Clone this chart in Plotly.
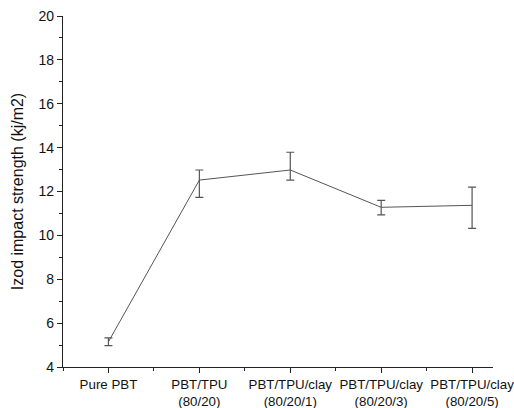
import plotly.graph_objects as go

categories = ["Pure PBT", "PBT/TPU<br>(80/20)", "PBT/TPU/clay<br>(80/20/1)",
              "PBT/TPU/clay<br>(80/20/3)", "PBT/TPU/clay<br>(80/20/5)"]
strength = [5.15, 12.52, 12.98, 11.28, 11.37]
err_plus = [0.18, 0.46, 0.81, 0.32, 0.83]
err_minus = [0.18, 0.79, 0.46, 0.35, 1.05]
y_ticks = [4, 6, 8, 10, 12, 14, 16, 18, 20]

x_idx = list(range(len(categories)))

fig = go.Figure()
fig.add_trace(go.Scatter(
    x=x_idx, y=strength, mode="lines",
    line=dict(color="#555555", width=1),
    error_y=dict(type="data", symmetric=False, array=err_plus, arrayminus=err_minus,
                 color="#555555", thickness=1.2, width=4),
    showlegend=False,
))

y_font = dict(family="Liberation Sans, Arial, sans-serif", size=14, color="#111111")
x_font = dict(family="Liberation Sans, Arial, sans-serif", size=13.3, color="#111111")

fig.update_layout(
    width=514, height=408,
    margin=dict(l=63, r=21, t=16, b=41),
    plot_bgcolor="white", paper_bgcolor="white",
    font=y_font,
    xaxis=dict(
        range=[-0.5, 4.23], tickvals=x_idx, ticktext=categories, automargin=False,
        ticklabeloverflow="allow",
        showgrid=False, zeroline=False, showline=True, linecolor="#222222", linewidth=1.3,
        ticks="outside", ticklen=5, tickcolor="#222222", tickfont=x_font,
        minor=dict(tickvals=[-0.5, 0.5, 1.5, 2.5, 3.5], ticks="outside", ticklen=3,
                   tickcolor="#222222", showgrid=False),
    ),
    yaxis=dict(
        range=[4, 20], tickvals=y_ticks, automargin=False,
        title=dict(text="Izod impact strength (kj/m2)",
                   font=dict(family="Liberation Sans, Arial, sans-serif", size=16, color="#111111"),
                   standoff=10),
        showgrid=False, zeroline=False, showline=True, linecolor="#222222", linewidth=1.3,
        ticks="outside", ticklen=5, tickcolor="#222222", tickfont=y_font,
        minor=dict(dtick=1, ticks="outside", ticklen=3, tickcolor="#222222", showgrid=False),
    ),
)

fig.write_html("out.html")
